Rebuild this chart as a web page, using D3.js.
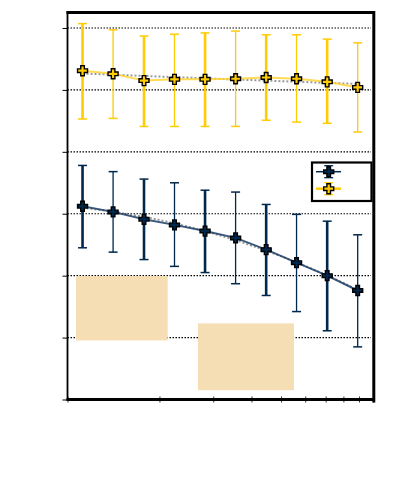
<!DOCTYPE html>
<html>
<head>
<meta charset="utf-8">
<script src="https://cdn.jsdelivr.net/npm/d3@7"></script>
<style>
html,body{margin:0;padding:0;background:#fff;}
svg{display:block;}
</style>
</head>
<body>
<script>
// ---- data ----
const xValues = [1.12, 1.41, 1.78, 2.24, 2.82, 3.55, 4.47, 5.62, 7.08, 8.91];
const maizeMean = [5.31, 5.26, 5.15, 5.17, 5.17, 5.18, 5.20, 5.18, 5.13, 5.04];
const maizeHi   = [6.07, 5.97, 5.87, 5.90, 5.92, 5.95, 5.89, 5.89, 5.82, 5.76];
const maizeLo   = [4.53, 4.54, 4.41, 4.41, 4.41, 4.41, 4.51, 4.48, 4.46, 4.32];
const blueMean  = [3.12, 3.03, 2.91, 2.82, 2.72, 2.61, 2.42, 2.21, 2.00, 1.76];
const blueHi    = [3.78, 3.68, 3.56, 3.50, 3.38, 3.35, 3.15, 2.99, 2.88, 2.66];
const blueLo    = [2.45, 2.38, 2.26, 2.15, 2.05, 1.87, 1.68, 1.42, 1.11, 0.85];
const yTicks = [0, 1, 2, 3, 4, 5, 6];
const xTicks = [1, 2, 3, 4, 5, 6, 7, 8, 9, 10];
const boxX0 = [1.066, 2.674];
const boxX1 = [2.128, 5.51];
const boxY0 = [0.954, 0.150];
const boxY1 = [1.994, 1.229];

const MAIZE = "#FFCB05", BLUE = "#00274C", TAN = "#F5DEB3";

const W = 401, H = 485;
const svg = d3.select("body").append("svg").attr("width", W).attr("height", H);

const x = d3.scaleLog().domain([1, 10]).range([67.5, 373]);
const y = d3.scaleLinear().domain([0, 6.25]).range([399.5, 12.5]);

// gridlines
svg.append("g").selectAll("line").data(yTicks.filter(d => d > 0)).join("line")
  .attr("x1", x(1)).attr("x2", x(10) - 2)
  .attr("y1", d => y(d)).attr("y2", d => y(d))
  .attr("stroke", "#000").attr("stroke-width", 1.2).attr("stroke-dasharray", "1.5,1.5");

// tan boxes
svg.append("g").selectAll("rect").data(boxX0.map((d, i) => i)).join("rect")
  .attr("x", i => x(boxX0[i])).attr("width", i => x(boxX1[i]) - x(boxX0[i]))
  .attr("y", i => y(boxY1[i])).attr("height", i => y(boxY0[i]) - y(boxY1[i]))
  .attr("fill", TAN);

// axes
const yAxis = d3.axisLeft(y).tickValues(yTicks).tickSize(5).tickFormat("");
const gy = svg.append("g").attr("transform", `translate(${x(1)},0)`).call(yAxis);
gy.select(".domain").remove();
gy.selectAll(".tick line").attr("stroke", "#000").attr("stroke-width", 1);

const xAxis = d3.axisBottom(x).tickValues(xTicks).tickSize(3).tickFormat("");
const gx = svg.append("g").attr("transform", `translate(0,${y(0)})`).call(xAxis);
gx.select(".domain").remove();
gx.selectAll(".tick line").attr("stroke", "#333").attr("stroke-width", 1).attr("y1", -3);

// frame
svg.append("line").attr("x1", x(1)).attr("x2", x(1)).attr("y1", 11).attr("y2", y(0) + 1)
  .attr("stroke", "#000").attr("stroke-width", 1.8);
svg.append("line").attr("x1", x(1) - 1).attr("x2", x(10) + 1.5).attr("y1", y(0)).attr("y2", y(0))
  .attr("stroke", "#000").attr("stroke-width", 2.8);
svg.append("line").attr("x1", x(1) - 1).attr("x2", x(10) + 1.5).attr("y1", 12.5).attr("y2", 12.5)
  .attr("stroke", "#000").attr("stroke-width", 3);
svg.append("line").attr("x1", x(10) + 0.8).attr("x2", x(10) + 0.8).attr("y1", 11).attr("y2", y(0) + 3)
  .attr("stroke", "#000").attr("stroke-width", 3);

// quadratic least-squares trend in log-x
function fit(vals) {
  const t = xValues.map(v => Math.log10(v));
  // normal equations for a + b t + c t^2
  const S = k => d3.sum(t, v => Math.pow(v, k));
  const T = k => d3.sum(t, (v, i) => Math.pow(v, k) * vals[i]);
  const A = [[S(0), S(1), S(2)], [S(1), S(2), S(3)], [S(2), S(3), S(4)]];
  const B = [T(0), T(1), T(2)];
  const det = m => m[0][0]*(m[1][1]*m[2][2]-m[1][2]*m[2][1]) - m[0][1]*(m[1][0]*m[2][2]-m[1][2]*m[2][0]) + m[0][2]*(m[1][0]*m[2][1]-m[1][1]*m[2][0]);
  const D = det(A);
  const coef = [0, 1, 2].map(j => det(A.map((row, r) => row.map((v, c) => c === j ? B[r] : v))) / D);
  const t0 = t[0], t1 = t[t.length - 1];
  return d3.range(41).map(k => {
    const tv = t0 + (t1 - t0) * k / 40;
    return [Math.pow(10, tv), coef[0] + coef[1] * tv + coef[2] * tv * tv];
  });
}

const line = d3.line().x(d => x(d[0])).y(d => y(d[1]));

const plus = "M-1.8,-5H1.8V-1.8H5V1.8H1.8V5H-1.8V1.8H-5V-1.8H-1.8Z";

function series(mean, lo, hi, color, lineColor) {
  const pts = xValues.map((v, i) => [v, mean[i]]);
  // trend
  svg.append("path").attr("d", line(fit(mean))).attr("fill", "none")
    .attr("stroke", "#777").attr("stroke-opacity", 0.75).attr("stroke-width", 2).attr("stroke-dasharray", "2,2");
  // connecting line
  svg.append("path").attr("d", line(pts)).attr("fill", "none")
    .attr("stroke", lineColor).attr("stroke-width", 2).attr("stroke-opacity", 0.85);
  // error bars
  const g = svg.append("g");
  xValues.forEach((v, i) => {
    const w = i % 2 === 0 ? 2.6 : 1.3;
    const cx = x(v);
    g.append("line").attr("x1", cx).attr("x2", cx).attr("y1", y(hi[i])).attr("y2", y(lo[i]))
      .attr("stroke", color).attr("stroke-width", w);
    [hi[i], lo[i]].forEach(e => {
      g.append("line").attr("x1", cx - 4.5).attr("x2", cx + 4.5).attr("y1", y(e)).attr("y2", y(e))
        .attr("stroke", color).attr("stroke-width", 1.5);
    });
  });
  // markers
  svg.append("g").selectAll("path").data(pts).join("path")
    .attr("d", plus).attr("transform", d => `translate(${x(d[0])},${y(d[1])})`)
    .attr("fill", color).attr("stroke", "#000").attr("stroke-width", 1.4);
}

series(maizeMean, maizeLo, maizeHi, MAIZE, "#FFD335");
series(blueMean, blueLo, blueHi, BLUE, "#1a3d66");

// legend
const lg = svg.append("g");
lg.append("rect").attr("x", 312).attr("y", 162.5).attr("width", 59.5).attr("height", 38.5)
  .attr("fill", "#fff").attr("stroke", "#000").attr("stroke-width", 2.2);
[[BLUE, 171.7, 1.5], [MAIZE, 188.7, 2.5]].forEach(([c, ly, lw]) => {
  lg.append("line").attr("x1", 316).attr("x2", 341).attr("y1", ly).attr("y2", ly)
    .attr("stroke", c).attr("stroke-width", lw);
  lg.append("line").attr("x1", 328.7).attr("x2", 328.7).attr("y1", ly - 6).attr("y2", ly + 6)
    .attr("stroke", c).attr("stroke-width", 1.3);
  [ly - 6, ly + 6].forEach(e => lg.append("line").attr("x1", 324.2).attr("x2", 333.2)
    .attr("y1", e).attr("y2", e).attr("stroke", c).attr("stroke-width", 1.3));
  lg.append("path").attr("d", plus).attr("transform", `translate(328.7,${ly})`)
    .attr("fill", c).attr("stroke", "#000").attr("stroke-width", 1.4);
});
</script>
</body>
</html>
